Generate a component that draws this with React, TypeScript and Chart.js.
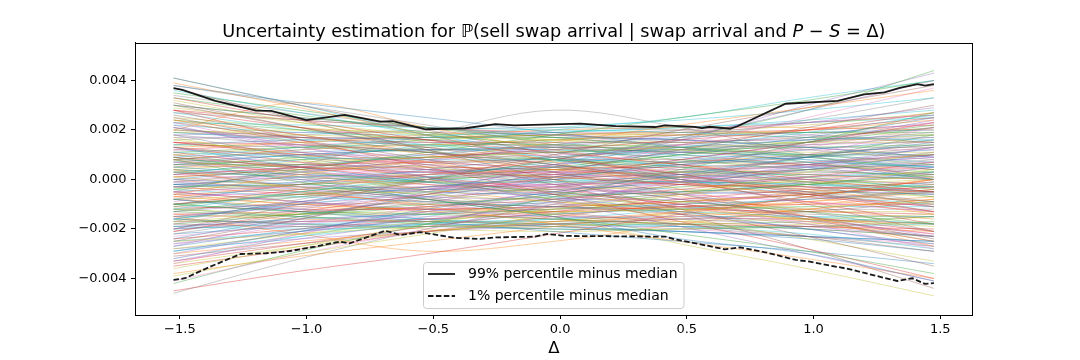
import React, { useEffect, useRef } from 'react';
import { Chart, registerables } from 'chart.js';
Chart.register(...registerables);

// ---------- data ----------
const knotX = [-1.525, -1.025, -0.525, -0.025, 0.475, 0.975, 1.475];
// sample curves, values in units of 1e-4
const sampleCurves: number[][] = [
  [-16,-9,-3,1,6,10,14],[24,18,10,4,-1,-7,-14],[-18,-14,-10,-7,-5,-2,2],[2,5,9,12,16,20,25],
  [-5,-9,-12,-15,-16,-19,-23],[-25,-16,-6,3,12,21,30],[23,13,4,-3,-11,-18,-28],[27,24,21,18,15,12,8],
  [-25,-22,-19,-19,-17,-16,-14],[11,9,8,8,7,7,5],[-29,-21,-12,-5,2,9,15],[-6,2,8,15,22,29,36],
  [8,-1,-8,-15,-22,-29,-38],[9,5,3,1,-2,-3,-5],[22,11,1,-9,-19,-30,-41],[-20,-10,0,10,20,29,38],
  [-5,-3,-3,-2,-1,0,1],[21,15,11,6,1,-3,-9],[-28,-22,-17,-12,-6,-2,4],[23,22,21,20,19,17,16],
  [-16,-18,-19,-20,-21,-23,-25],[-7,-2,2,4,7,10,14],[9,3,-1,-5,-9,-13,-18],[33,24,16,9,2,-6,-13],
  [-33,-24,-17,-9,-1,6,13],[37,24,12,0,-12,-23,-35],[-34,-22,-10,2,14,25,37],[18,14,12,13,13,14,17],
  [-17,-14,-13,-13,-12,-11,-9],[-12,-5,1,7,13,19,26],[13,5,-1,-7,-13,-20,-26],[8,12,14,16,18,20,24],
  [-10,-13,-14,-16,-18,-20,-23],[28,21,16,11,6,0,-5],[-26,-21,-16,-11,-6,-1,5],[31,21,12,3,-6,-16,-25],
  [-32,-22,-13,-4,5,14,23],[38,30,22,14,6,-2,-11],[-39,-30,-22,-14,-6,3,11],[3,1,-1,-1,-1,-2,-3],
  [-2,1,3,5,7,9,12],[-30,-25,-21,-17,-13,-9,-4],[30,25,21,17,13,9,4],[28,16,5,-6,-17,-28,-40],
  [-27,-16,-5,6,17,28,40],[-10,-6,-3,0,3,6,10],[7,3,0,-3,-6,-9,-13],[-1,3,6,9,12,15,19],
  [1,-3,-6,-9,-12,-16,-19],[9,13,17,21,24,28,33],[-8,-13,-17,-21,-25,-29,-34],[4,-4,-11,-18,-25,-32,-40],
  [-4,4,11,18,25,32,40],[15,10,6,2,-2,-6,-11],[-15,-10,-6,-2,2,6,11],[41,30,20,10,0,-10,-21],
  [-41,-30,-20,-10,0,10,21],[8,6,5,4,3,2,0],[-8,-6,-5,-4,-3,-2,0],[19,16,14,12,10,8,5],
  [-19,-16,-14,-12,-10,-8,-5],[39,29,18,7,-4,-15,-27],[-42,-29,-18,-7,4,15,27],[-21,-13,-6,1,8,15,23],
  [21,13,6,-1,-8,-15,-23],[23,17,15,15,15,17,21],[-23,-18,-15,-15,-15,-17,-22],[-17,-8,0,8,16,24,33],
  [17,8,0,-8,-16,-24,-33],[5,2,0,0,-1,-2,-5],[38,31,25,19,13,7,0],[-38,-31,-25,-19,-13,-7,0],
  [-11,-5,0,5,10,15,21],[11,5,0,-5,-10,-15,-21],[-3,3,8,13,18,23,29],[3,-3,-8,-13,-18,-23,-29],
  [-1,1,2,3,4,5,7],[-22,-15,-9,-3,3,9,16],[4,7,9,11,13,15,18],[-4,-7,-9,-11,-13,-15,-18],
  [4,0,-8,-15,-24,-30,-41],[20,31,21,12,6,2,0],[-10,-6,0,8,17,28,44],[-45,-37,-30,-22,-14,-7,0],
  [-20,-12,-4,5,16,30,43],[25,16,8,-2,-14,-28,-44],[12,14,15,13,10,6,2],[-5,6,18,28,21,10,0],
  [-12,-14,-14,-12,-9,-6,-2],[41,30,18,8,0,-6,-10],[-2,-3,-5,-6,-5,-2,3],[-15,-22,-29,-25,-18,-12,-8],
  [6,8,9,8,5,1,-4],[15,11,7,5,5,7,10],[-15,-11,-7,-5,-5,-7,-11],[26,18,11,5,0,-3,-5],
  [-26,-18,-11,-5,0,3,5],[-46,-32,-20,-10,-2,4,8],[10,4,-5,-15,-26,-36,-47],[2,8,14,20,25,33,40],
  [0,-2,-4,-4,-1,4,10],[1,4,5,4,1,-4,-10],[33,26,19,13,8,4,1],[-33,-26,-19,-13,-8,-4,-1],
  [-13,-9,-4,2,8,15,24],[13,9,4,-2,-8,-15,-24],[6,4,3,3,4,6,9],[-6,-4,-3,-3,-4,-6,-9],
  [19,20,19,16,12,7,1],[-19,-20,-19,-16,-12,-7,-1],[-8,-2,4,9,13,16,18],[8,2,-4,-9,-13,-16,-18],
  [11,13,14,14,13,10,6],[-11,-12,-12,-11,-9,-6,-3],[-30,-21,-13,-6,0,5,9],[30,21,13,6,0,-5,-9],
  [2,5,8,10,11,12,12],[-2,-5,-8,-10,-11,-12,-12],[16,10,5,1,-1,-1,1],[-16,-10,-5,-1,1,2,0],
  [-3,-1,2,6,11,17,25],[3,1,-2,-6,-11,-17,-25],[24,20,16,13,11,10,10],[-24,-20,-16,-13,-11,-10,-10],
  [-20,-17,-13,-8,-2,5,13],[20,17,13,8,2,-5,-13],[10,7,4,2,1,1,2],[-10,-7,-4,-2,-1,0,-2],
  [-36,-27,-18,-11,-5,0,3],[36,27,18,11,5,0,-3],[7,10,12,12,11,9,5],[-7,-10,-12,-12,-11,-9,-5],
  [14,13,11,8,4,-1,-7],[-14,-13,-11,-8,-4,1,7],[-1,-4,-7,-8,-8,-6,-2],[1,4,7,8,8,6,2],
  [5,2,-1,-2,-1,2,6],[-5,-2,1,2,1,-2,-6],[29,23,18,14,12,11,11],[-29,-23,-18,-14,-12,-11,-11],
  [14,16,17,17,16,13,9],[-14,-16,-17,-17,-15,-12,-8],[5,9,13,16,18,19,19],[-5,-9,-13,-16,-18,-19,-20],
  [30,25,21,18,16,16,17],[-31,-26,-21,-18,-16,-16,-18],[-9,-1,7,14,19,23,26],[9,1,-7,-14,-19,-23,-27],
  [20,18,17,17,19,22,27],[-20,-18,-17,-17,-19,-22,-28],[0,5,10,14,17,19,20],[0,-5,-10,-14,-17,-19,-21],
  [35,28,21,15,10,6,3],[-35,-28,-21,-15,-10,-6,-3],[12,10,10,11,14,18,23],[-12,-10,-10,-11,-14,-18,-23],
  [-18,-9,-1,6,11,14,15],[18,9,1,-6,-11,-14,-15],[25,21,18,16,15,15,15],[-25,-21,-18,-16,-15,-15,-15],
  [6,10,12,13,12,10,7],[-6,-10,-12,-13,-12,-10,-7],[-13,-7,-1,4,10,16,22],[13,7,1,-4,-10,-16,-22],
  [17,17,16,14,11,8,4],[-17,-17,-16,-14,-11,-8,-4],[2,0,-2,-3,-2,1,5],[-2,0,2,3,2,-1,-5],
  [10,13,16,18,19,19,18],[-10,-13,-16,-18,-19,-19,-18],[-24,-15,-7,0,7,12,16],[24,15,7,0,-7,-12,-16],
  [3,6,9,11,12,13,14],[-3,-6,-9,-11,-12,-13,-14],[21,14,8,3,-1,-4,-6],[-21,-14,-8,-3,1,4,6],
  [-6,-6,-4,0,6,13,21],[6,6,4,0,-6,-13,-21],[32,23,15,8,3,-1,-3],[-32,-23,-15,-8,-3,1,3],
  [8,11,12,11,9,5,0],[-8,-11,-12,-11,-9,-5,0],[-15,-14,-11,-6,1,9,18],[15,14,11,6,-1,-9,-18],
  [18,19,19,18,16,13,9],[-18,-19,-19,-18,-16,-13,-9],[0,2,3,3,2,0,-2],[4,2,1,1,2,4,7],
  [-4,-2,-1,-1,-2,-4,-7],[27,20,14,9,6,5,6],[-27,-20,-14,-9,-6,-5,-6],[13,15,17,18,18,17,15],
  [-13,-15,-17,-18,-18,-17,-15],[-10,-4,2,8,14,20,27],[10,4,-2,-8,-14,-20,-27],[7,5,4,4,6,9,13],
  [-7,-5,-4,-4,-6,-9,-13],[16,18,20,21,20,18,15],[-16,-18,-20,-21,-20,-18,-15],[22,19,18,19,21,24,28],
  [-22,-19,-18,-19,-21,-24,-29],[12,15,18,20,21,21,20],[-12,-15,-18,-20,-20,-19,-17],[28,24,21,19,19,20,22],
  [-28,-24,-21,-19,-19,-20,-23],[19,17,17,18,20,23,26],[-19,-17,-17,-18,-20,-23,-26],[34,27,21,17,14,13,13],
  [-34,-27,-21,-17,-14,-13,-13],[8,12,16,19,21,23,25],[-8,-12,-16,-19,-21,-23,-25],[5,6,7,7,7,6,4],
  [-3,-2,0,2,3,3,2],
];

const p99X = [-1.525,-1.49,-1.36,-1.2,-1.14,-1.0,-0.85,-0.71,-0.66,-0.53,-0.375,-0.255,-0.18,0.08,0.22,0.375,0.415,0.53,0.56,0.59,0.67,0.70,0.89,1.095,1.2,1.28,1.34,1.41,1.44,1.475];
const p99Y = [36.9,36.2,31.8,27.8,27.7,24.0,26.1,23.4,23.6,20.3,20.7,22.4,21.9,22.6,21.6,21.2,21.9,21.3,20.8,21.3,20.5,21.5,30.6,31.8,34.4,35.2,37.0,38.5,37.9,38.5];
const p01X = [-1.525,-1.48,-1.38,-1.26,-1.16,-1.065,-0.965,-0.87,-0.83,-0.69,-0.63,-0.55,-0.415,-0.315,-0.255,-0.1,-0.05,0.02,0.415,0.455,0.535,0.65,0.71,0.81,0.93,0.985,1.145,1.245,1.33,1.39,1.44,1.475];
const p01Y = [-40.6,-39.9,-35.2,-30.1,-29.8,-28.9,-27.1,-25.1,-25.8,-20.7,-22.4,-21.3,-23.6,-24.0,-23.4,-23.1,-22.0,-22.8,-23.1,-24.2,-25.8,-28.2,-27.4,-29.4,-32.5,-33.2,-36.3,-38.9,-41.0,-39.9,-42.2,-41.9];

const xTicks = [-1.5, -1.0, -0.5, 0.0, 0.5, 1.0, 1.5];
const xTickLabels = ['\u22121.5', '\u22121.0', '\u22120.5', '0.0', '0.5', '1.0', '1.5'];
const yTicks = [-0.004, -0.002, 0.0, 0.002, 0.004];
const yTickLabels = ['\u22120.004', '\u22120.002', '0.000', '0.002', '0.004'];
const legendLabels = ['99% percentile minus median', '1% percentile minus median'];
const titleParts = [
  { text: 'Uncertainty estimation for \u2119(sell swap arrival | swap arrival and ', italic: false },
  { text: 'P', italic: true },
  { text: ' \u2212 ', italic: false },
  { text: 'S', italic: true },
  { text: ' = \u0394)', italic: false },
];
const xLabel = '\u0394';

const tab10 = ['#1f77b4','#ff7f0e','#2ca02c','#d62728','#9467bd','#8c564b','#e377c2','#7f7f7f','#bcbd22','#17becf'];
const UNIT = 1e-4;
const FONT = "'DejaVu Sans', sans-serif";

function rgba(hex: string, a: number) {
  const n = parseInt(hex.slice(1), 16);
  return `rgba(${(n >> 16) & 255},${(n >> 8) & 255},${n & 255},${a})`;
}

const decorPlugin = {
  id: 'decor',
  afterDraw(chart: any) {
    const ctx: CanvasRenderingContext2D = chart.ctx;
    const a = chart.chartArea;
    ctx.save();
    // frame
    ctx.strokeStyle = '#000';
    ctx.lineWidth = 1;
    ctx.strokeRect(Math.round(a.left) + 0.5, Math.round(a.top) + 0.5, Math.round(a.right - a.left) - 1, Math.round(a.bottom - a.top));
    // title
    const cx = (a.left + a.right) / 2;
    const size = 17.7;
    let total = 0;
    const widths = titleParts.map(p => {
      ctx.font = `${p.italic ? 'italic ' : ''}${size}px ${FONT}`;
      const w = ctx.measureText(p.text).width;
      total += w;
      return w;
    });
    let x = cx - total / 2;
    ctx.fillStyle = '#000';
    ctx.textBaseline = 'alphabetic';
    ctx.textAlign = 'left';
    titleParts.forEach((p, i) => {
      ctx.font = `${p.italic ? 'italic ' : ''}${size}px ${FONT}`;
      ctx.fillText(p.text, x, 36.8);
      x += widths[i];
    });
    // x label
    ctx.font = `16.5px ${FONT}`;
    ctx.textAlign = 'center';
    ctx.fillText(xLabel, cx, 352.6);
    // legend
    const lx = 423.5, ly = 262.5, lw = 260.5, lh = 46;
    ctx.beginPath();
    (ctx as any).roundRect(lx, ly, lw, lh, 3);
    ctx.fillStyle = 'rgba(255,255,255,0.8)';
    ctx.fill();
    ctx.strokeStyle = '#cccccc';
    ctx.lineWidth = 1;
    ctx.stroke();
    const rows = [274, 296];
    rows.forEach((ry, i) => {
      ctx.beginPath();
      ctx.strokeStyle = '#1a1a1a';
      ctx.lineWidth = 1.8;
      ctx.setLineDash(i === 1 ? [5.5, 2.4] : []);
      ctx.moveTo(428, ry);
      ctx.lineTo(455, ry);
      ctx.stroke();
      ctx.setLineDash([]);
      ctx.fillStyle = '#000';
      ctx.font = `14px ${FONT}`;
      ctx.textAlign = 'left';
      ctx.textBaseline = 'middle';
      ctx.fillText(legendLabels[i], 468, ry);
    });
    ctx.restore();
  },
};

export default function App() {
  const ref = useRef<HTMLCanvasElement>(null);
  useEffect(() => {
    const canvas = ref.current!;
    const datasets: any[] = sampleCurves.map((c, i) => ({
      data: c.map((v, k) => ({ x: knotX[k], y: v * UNIT })),
      borderColor: rgba(tab10[i % 10], 0.5),
      borderWidth: 0.8,
      pointRadius: 0,
      tension: 0.35,
      order: 2,
    }));
    datasets.push({
      data: p99X.map((x, k) => ({ x, y: p99Y[k] * UNIT })),
      borderColor: '#1a1a1a', borderWidth: 1.8, pointRadius: 0, tension: 0, order: 0,
    });
    datasets.push({
      data: p01X.map((x, k) => ({ x, y: p01Y[k] * UNIT })),
      borderColor: '#1a1a1a', borderWidth: 1.8, borderDash: [5.5, 2.4], pointRadius: 0, tension: 0, order: 0,
    });
    const chart = new Chart(canvas, {
      type: 'line',
      data: { datasets },
      options: {
        animation: false,
        responsive: false,
        devicePixelRatio: 1,
        layout: { padding: { left: 0, right: 107.3, top: 42.7, bottom: 0 } },
        plugins: { legend: { display: false }, tooltip: { enabled: false }, title: { display: false } },
        scales: {
          x: {
            type: 'linear', min: -1.677, max: 1.628,
            afterBuildTicks: (s: any) => { s.ticks = xTicks.map(v => ({ value: v })); },
            afterFit: (s: any) => { s.height = 45; },
            ticks: { autoSkip: false, maxRotation: 0, color: '#000', font: { family: FONT, size: 13 }, padding: 3,
              callback: (_v: any, i: number) => xTickLabels[i] },
            grid: { display: true, drawOnChartArea: false, drawTicks: true, tickLength: 4, tickColor: '#000', tickWidth: 1 },
            border: { display: true, color: '#000', width: 1 },
          },
          y: {
            type: 'linear', min: -0.005475, max: 0.005527,
            afterBuildTicks: (s: any) => { s.ticks = yTicks.map(v => ({ value: v })); },
            afterFit: (s: any) => { s.width = 135; },
            ticks: { autoSkip: false, color: '#000', font: { family: FONT, size: 13 }, padding: 4.5,
              callback: (_v: any, i: number) => yTickLabels[i] },
            grid: { display: true, drawOnChartArea: false, drawTicks: true, tickLength: 4, tickColor: '#000', tickWidth: 1 },
            border: { display: true, color: '#000', width: 1 },
          },
        },
      },
      plugins: [decorPlugin],
    } as any);
    return () => chart.destroy();
  }, []);
  return (
    <div style={{ position: 'fixed', left: 0, top: 0, width: 1080, height: 360, background: '#fff' }}>
      <canvas ref={ref} width={1080} height={360} style={{ width: 1080, height: 360, display: 'block' }} />
    </div>
  );
}
